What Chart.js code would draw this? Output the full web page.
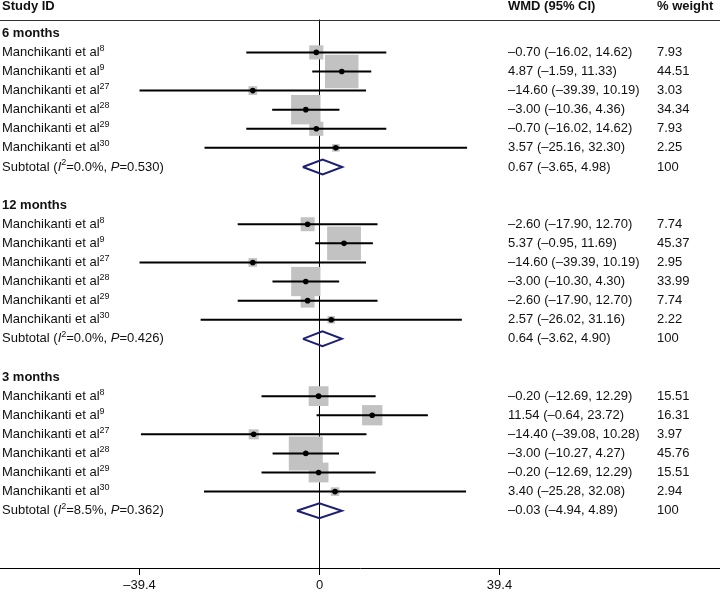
<!DOCTYPE html>
<html><head><meta charset="utf-8">
<script src="https://cdn.jsdelivr.net/npm/chart.js@4/dist/chart.umd.min.js"></script>
<style>html,body{margin:0;padding:0;background:#fff;}canvas{display:block;}</style>
</head><body>
<canvas id="c" width="720" height="592"></canvas>
<script>
// ---- data ----
const groupLabels = ['6 months', '12 months', '3 months'];
const studyName = 'Manchikanti et al';
const studyRefs = ['8', '9', '27', '28', '29', '30'];

const wmd6 = [-0.70, 4.87, -14.60, -3.00, -0.70, 3.57];
const low6 = [-16.02, -1.59, -39.39, -10.36, -16.02, -25.16];
const high6 = [14.62, 11.33, 10.19, 4.36, 14.62, 32.30];
const weight6 = [7.93, 44.51, 3.03, 34.34, 7.93, 2.25];

const wmd12 = [-2.60, 5.37, -14.60, -3.00, -2.60, 2.57];
const low12 = [-17.90, -0.95, -39.39, -10.30, -17.90, -26.02];
const high12 = [12.70, 11.69, 10.19, 4.30, 12.70, 31.16];
const weight12 = [7.74, 45.37, 2.95, 33.99, 7.74, 2.22];

const wmd3 = [-0.20, 11.54, -14.40, -3.00, -0.20, 3.40];
const low3 = [-12.69, -0.64, -39.08, -10.27, -12.69, -25.28];
const high3 = [12.29, 23.72, 10.28, 4.27, 12.29, 32.08];
const weight3 = [15.51, 16.31, 3.97, 45.76, 15.51, 2.94];

const subtotalWmd = [0.67, 0.64, -0.03];
const subtotalLow = [-3.65, -3.62, -4.94];
const subtotalHigh = [4.98, 4.90, 4.89];
const subtotalI2 = ['0.0', '0.0', '8.5'];
const subtotalP = ['0.530', '0.426', '0.362'];

const xTicks = [-39.4, 0, 39.4];

// ---- build ----
const groups = [
  {wmd: wmd6, low: low6, high: high6, w: weight6},
  {wmd: wmd12, low: low12, high: high12, w: weight12},
  {wmd: wmd3, low: low3, high: high3, w: weight3}
];
const ROWS_PER_GROUP = 9;
const FONT = '"Liberation Sans", Arial, Helvetica, sans-serif';
const TXT = '#111';
function fmt(v) { const s = Math.abs(v).toFixed(2); return (v < 0 ? '\u2013' : '') + s; }
function fmtTick(v) { return v === 0 ? '0' : (v < 0 ? '\u2013' : '') + Math.abs(v).toString(); }

const boxes = [], dots = [], boxRadii = [], ciSets = [], diamondSets = [], rows = [];
groups.forEach((g, gi) => {
  const base = gi * ROWS_PER_GROUP;
  rows.push({type: 'head', y: base, text: groupLabels[gi]});
  g.wmd.forEach((v, i) => {
    const y = base + 1 + i;
    boxes.push({x: v, y});
    boxRadii.push(3.55 * Math.sqrt(g.w[i]));
    dots.push({x: v, y});
    ciSets.push({
      type: 'scatter', showLine: true, data: [{x: g.low[i], y}, {x: g.high[i], y}],
      borderColor: '#000', borderWidth: 2, pointRadius: 0, order: 2
    });
    rows.push({type: 'study', y, ref: studyRefs[i], ci: fmt(v) + ' (' + fmt(g.low[i]) + ', ' + fmt(g.high[i]) + ')', w: g.w[i].toFixed(2)});
  });
  const ys = base + 7, h = 0.39;
  diamondSets.push({
    type: 'scatter', showLine: true,
    data: [{x: subtotalLow[gi], y: ys}, {x: subtotalWmd[gi], y: ys - h}, {x: subtotalHigh[gi], y: ys},
           {x: subtotalWmd[gi], y: ys + h}, {x: subtotalLow[gi], y: ys}],
    borderColor: '#1c1f73', borderWidth: 2, pointRadius: 0, fill: false, order: 1, borderJoinStyle: 'miter'
  });
  rows.push({type: 'sub', y: ys, i2: subtotalI2[gi], p: subtotalP[gi],
    ci: fmt(subtotalWmd[gi]) + ' (' + fmt(subtotalLow[gi]) + ', ' + fmt(subtotalHigh[gi]) + ')', w: '100'});
});

const datasets = [
  {type: 'scatter', data: boxes, pointStyle: 'rect', pointRadius: boxRadii, backgroundColor: '#c2c2c2', borderWidth: 0, order: 3},
  ...ciSets,
  {type: 'scatter', data: dots, pointStyle: 'circle', pointRadius: 2.8, backgroundColor: '#000', borderWidth: 0, order: 1},
  ...diamondSets
];

const HEADER_ROW = -1.42, RULE_ROW = -0.72;

const refPlugin = {
  id: 'refLines',
  beforeDatasetsDraw(chart) {
    const {ctx, scales: {x, y}, chartArea} = chart;
    ctx.save();
    ctx.strokeStyle = '#000'; ctx.lineWidth = 1;
    const x0 = Math.round(x.getPixelForValue(0)) + 0.5;
    ctx.beginPath(); ctx.moveTo(x0, y.getPixelForValue(RULE_ROW)); ctx.lineTo(x0, chartArea.bottom); ctx.stroke();
    ctx.strokeStyle = '#333';
    const yr = Math.round(y.getPixelForValue(RULE_ROW)) + 0.5;
    ctx.beginPath(); ctx.moveTo(0, yr); ctx.lineTo(chart.width, yr); ctx.stroke();
    ctx.restore();
  }
};

const textPlugin = {
  id: 'texts',
  afterDraw(chart) {
    const {ctx, scales: {y}} = chart;
    const X_LABEL = 2, X_CI = 508, X_W = 657;
    ctx.save();
    ctx.fillStyle = TXT; ctx.textBaseline = 'middle'; ctx.textAlign = 'left';
    const hy = y.getPixelForValue(HEADER_ROW);
    ctx.font = 'bold 13px ' + FONT;
    ctx.fillText('Study ID', X_LABEL, hy);
    ctx.fillText('WMD (95% CI)', X_CI, hy);
    ctx.fillText('% weight', X_W, hy);
    const seg = (parts, x0, yy) => {
      let xx = x0;
      parts.forEach(([t, f, dy]) => { ctx.font = f; ctx.fillText(t, xx, yy + (dy || 0)); xx += ctx.measureText(t).width; });
    };
    const N = '13px ' + FONT, I = 'italic 13px ' + FONT, S = '9px ' + FONT;
    rows.forEach(r => {
      const py = y.getPixelForValue(r.y);
      if (r.type === 'head') {
        ctx.font = 'bold 13px ' + FONT; ctx.fillText(r.text, X_LABEL, py);
      } else if (r.type === 'study') {
        seg([[studyName, N], [r.ref, S, -4]], X_LABEL, py);
        ctx.font = N; ctx.fillText(r.ci, X_CI, py); ctx.fillText(r.w, X_W, py);
      } else {
        seg([['Subtotal (', N], ['I', I], ['2', S, -4], ['=' + r.i2 + '%, ', N], ['P', I], ['=' + r.p + ')', N]], X_LABEL, py);
        ctx.font = N; ctx.fillText(r.ci, X_CI, py); ctx.fillText(r.w, X_W, py);
      }
    });
    ctx.restore();
  }
};

Chart.defaults.font.family = FONT;
Chart.defaults.font.size = 13;
Chart.defaults.color = '#000';

new Chart(document.getElementById('c'), {
  type: 'scatter',
  data: {datasets},
  options: {
    responsive: false, animation: false, events: [],
    devicePixelRatio: 1,
    layout: {padding: 0, autoPadding: false},
    plugins: {legend: {display: false}, tooltip: {enabled: false}},
    scales: {
      x: {
        type: 'linear', position: 'bottom', min: -69.93, max: 87.66,
        afterBuildTicks: s => { s.ticks = xTicks.map(v => ({value: v})); },
        afterFit: s => { s.height = 24; },
        ticks: {callback: v => fmtTick(v), autoSkip: false, maxRotation: 0, padding: 3, color: '#111', font: {size: 13}},
        grid: {drawOnChartArea: false, drawTicks: true, tickLength: 7, color: '#000', tickColor: '#000'},
        border: {display: true, color: '#000', width: 1}
      },
      y: {type: 'linear', reverse: true, min: -1.743, max: 28.0, display: false}
    }
  },
  plugins: [refPlugin, textPlugin]
});
</script>
</body></html>
